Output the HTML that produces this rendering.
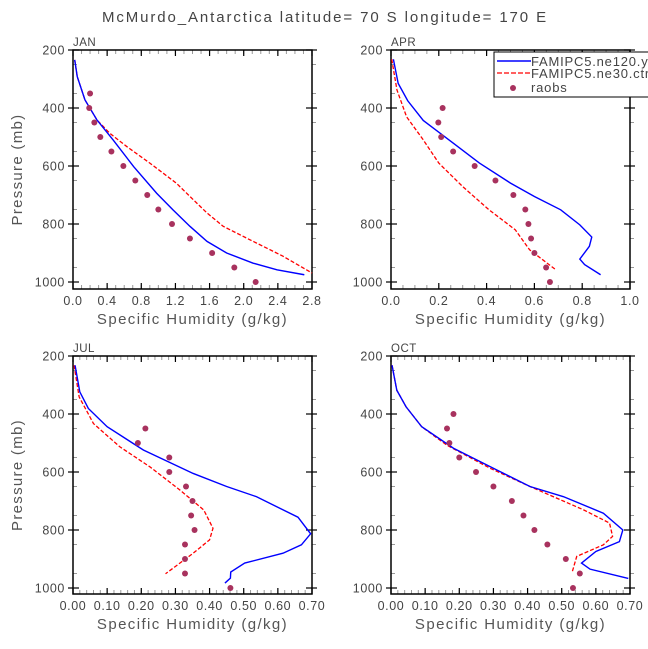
<!DOCTYPE html>
<html><head><meta charset="utf-8"><style>
html,body{margin:0;padding:0;background:#fff}
svg{display:block;font-family:"Liberation Sans","DejaVu Sans",sans-serif}
</style></head><body>
<svg id="chart" width="648" height="649" xmlns="http://www.w3.org/2000/svg">
<text x="325" y="22" text-anchor="middle" font-size="15" fill="#444" letter-spacing="1.9">McMurdo_Antarctica  latitude= 70 S longitude= 170 E</text>
</svg>
<script>
// ---- data ----
const months = ["JAN","APR","JUL","OCT"];
const xMaxes = [2.8, 1.0, 0.7, 0.7];
const xMajorSteps = [0.4, 0.2, 0.1, 0.1];
const xMinorSteps = [0.1, 0.05, 0.02, 0.02];
const xDecimals = [1, 1, 2, 2];
const yTicks = [200, 400, 600, 800, 1000];
const raobP = [350,400,450,500,550,600,650,700,750,800,850,900,950,1000];

const janBlueP = [234,292,372,441,510,602,694,751,808,860,900,935,958,975];
const janBlueQ = [0.02,0.05,0.14,0.28,0.47,0.71,0.98,1.17,1.37,1.57,1.80,2.11,2.39,2.71];
const janRedP = [234,292,372,441,487,533,590,659,705,762,808,854,911,969];
const janRedQ = [0.02,0.05,0.14,0.28,0.43,0.63,0.90,1.21,1.37,1.57,1.76,2.07,2.46,2.80];
const janRaobQ = [0.20,0.19,0.25,0.32,0.45,0.59,0.73,0.87,1.00,1.16,1.37,1.63,1.89,2.14];

const aprBlueP = [232,315,375,443,521,590,659,705,751,803,845,877,921,940,975];
const aprBlueQ = [0.01,0.03,0.07,0.135,0.26,0.37,0.50,0.60,0.71,0.79,0.84,0.83,0.79,0.81,0.877];
const aprRedP = [232,338,430,510,590,671,751,820,889,958];
const aprRedQ = [0.003,0.025,0.065,0.135,0.20,0.30,0.41,0.52,0.58,0.69];
const aprRaobQ = [null,0.216,0.198,0.21,0.26,0.35,0.437,0.512,0.562,0.575,0.586,0.60,0.649,0.665];

const julBlueP = [232,324,381,444,524,605,650,685,756,813,851,880,914,945,966,983];
const julBlueQ = [0.006,0.02,0.045,0.10,0.206,0.352,0.45,0.537,0.659,0.696,0.669,0.615,0.503,0.462,0.461,0.445];
const julRedP = [232,341,433,513,582,662,731,794,834,880,951];
const julRedQ = [0.003,0.018,0.06,0.137,0.225,0.313,0.383,0.41,0.40,0.352,0.271];
const julRaobQ = [null,null,0.212,0.19,0.282,0.282,0.331,0.35,0.346,0.356,0.328,0.328,0.328,0.461];

const octBlueP = [232,318,375,444,518,593,650,685,742,800,840,874,914,935,967];
const octBlueQ = [0.003,0.017,0.044,0.09,0.183,0.31,0.407,0.505,0.622,0.679,0.669,0.60,0.558,0.583,0.695];
const octRedP = [232,318,375,444,507,587,650,730,776,822,851,891,948];
const octRedQ = [0.003,0.017,0.044,0.09,0.163,0.29,0.407,0.563,0.64,0.649,0.622,0.544,0.53];
const octRaobQ = [null,0.183,0.164,0.171,0.20,0.249,0.30,0.354,0.388,0.42,0.458,0.512,0.553,0.533];

const blueP=[janBlueP,aprBlueP,julBlueP,octBlueP], blueQ=[janBlueQ,aprBlueQ,julBlueQ,octBlueQ];
const redP=[janRedP,aprRedP,julRedP,octRedP], redQ=[janRedQ,aprRedQ,julRedQ,octRedQ];
const raobQ=[janRaobQ,aprRaobQ,julRaobQ,octRaobQ];

// ---- layout ----
const NS="http://www.w3.org/2000/svg";
const svg=document.getElementById('chart');
const boxes=[{l:73,r:312,t:50,y1000:282,b:289},{l:391,r:630,t:50,y1000:282,b:289},
             {l:73,r:312,t:356,y1000:588,b:594},{l:391,r:630,t:356,y1000:588,b:594}];
function mk(tag,attrs,parent){const e=document.createElementNS(NS,tag);for(const k in attrs)e.setAttribute(k,attrs[k]);(parent||svg).appendChild(e);return e;}

months.forEach((m,i)=>{
  const B=boxes[i];
  const g=mk('g',{});
  
  
  const xs=q=>B.l+q/xMaxes[i]*(B.r-B.l);
  const ys=p=>B.t+(p-200)/800*(B.y1000-B.t);
  const nMin=Math.round(xMaxes[i]/xMinorSteps[i]);
  for(let k=0;k<=nMin;k++){const x=xs(k*xMinorSteps[i]);
    mk('line',{x1:x,x2:x,y1:B.t,y2:B.t+4,stroke:'#999','stroke-width':1},g);
    mk('line',{x1:x,x2:x,y1:B.b,y2:B.b-4,stroke:'#999','stroke-width':1},g);}
  for(let p=250;p<=1000;p+=100){const y=ys(p);
    mk('line',{x1:B.l,x2:B.l+4,y1:y,y2:y,stroke:'#999','stroke-width':1},g);
    mk('line',{x1:B.r,x2:B.r+4,y1:y,y2:y,stroke:'#999','stroke-width':1},g);}
  const nMaj=Math.round(xMaxes[i]/xMajorSteps[i]);
  for(let k=0;k<=nMaj;k++){const v=k*xMajorSteps[i];const x=xs(v);
    mk('line',{x1:x,x2:x,y1:B.t,y2:B.t+6,stroke:'#000','stroke-width':1.2},g);
    mk('line',{x1:x,x2:x,y1:B.b,y2:B.b-6,stroke:'#000','stroke-width':1.2},g);
    const t=mk('text',{x:x,y:B.b+16,'text-anchor':'middle','font-size':12.5,fill:'#444','letter-spacing':'0.6'},g);
    t.textContent=v.toFixed(xDecimals[i]);
    
    }
  yTicks.forEach(p=>{const y=ys(p);
    mk('line',{x1:B.l-5,x2:B.l+6,y1:y,y2:y,stroke:'#000','stroke-width':1.2},g);
    mk('line',{x1:B.r-6,x2:B.r+5,y1:y,y2:y,stroke:'#000','stroke-width':1.2},g);
    const t=mk('text',{x:B.l-8,y:y+4.5,'text-anchor':'end','font-size':12.5,fill:'#444','letter-spacing':'0.6'},g);
    t.textContent=p;
    
    });
  const fr=mk('rect',{x:B.l,y:B.t,width:B.r-B.l,height:B.b-B.t,fill:'none',stroke:'#000','stroke-width':1.5},g);
  
  
  const ml=mk('text',{x:B.l,y:B.t-4,'font-size':11.5,fill:'#444','letter-spacing':'0.5'},g);ml.textContent=m;
  
  
  const xt=mk('text',{x:(B.l+B.r)/2,y:B.b+35,'text-anchor':'middle','font-size':15,fill:'#555','letter-spacing':'1.4'},g);
  xt.textContent='Specific Humidity (g/kg)';
  
  
  if(i%2===0){const cy=(B.t+B.b)/2;
    const yt=mk('text',{x:0,y:0,transform:`translate(22,${cy}) rotate(-90)`,'text-anchor':'middle','font-size':15,fill:'#555','letter-spacing':'1.3'},g);
    yt.textContent='Pressure (mb)';
    
    }
  const ptsR=redP[i].map((p,k)=>xs(redQ[i][k])+','+ys(p)).join(' ');
  const rl=mk('polyline',{points:ptsR,fill:'none',stroke:'#f00','stroke-width':1.3,'stroke-dasharray':'4,2'},g);
  
  
  const ptsB=blueP[i].map((p,k)=>xs(blueQ[i][k])+','+ys(p)).join(' ');
  const bl=mk('polyline',{points:ptsB,fill:'none',stroke:'#00f','stroke-width':1.4},g);
  
  
  raobP.forEach((p,k)=>{const q=raobQ[i][k];if(q==null)return;
    const c=mk('circle',{cx:xs(q),cy:ys(p),r:3,fill:'#a8325e'},g);
    
    });
});

const lg=mk('g',{});


mk('rect',{x:494,y:52,width:160,height:45,fill:'#fff',stroke:'#000','stroke-width':1},lg);
mk('line',{x1:497,x2:531,y1:61,y2:61,stroke:'#00f','stroke-width':1.4},lg);
mk('line',{x1:497,x2:531,y1:73,y2:73,stroke:'#f00','stroke-width':1.3,'stroke-dasharray':'5,2'},lg);
mk('circle',{cx:513,cy:88,r:3,fill:'#a8325e'},lg);
[['FAMIPC5.ne120.ys',66],['FAMIPC5.ne30.ctrl',78],['raobs',92]].forEach(([s,y])=>{
  const t=mk('text',{x:531,y:y,'font-size':13,fill:'#444','letter-spacing':'0.8'},lg);t.textContent=s;
  
  });
</script>
</body></html>
